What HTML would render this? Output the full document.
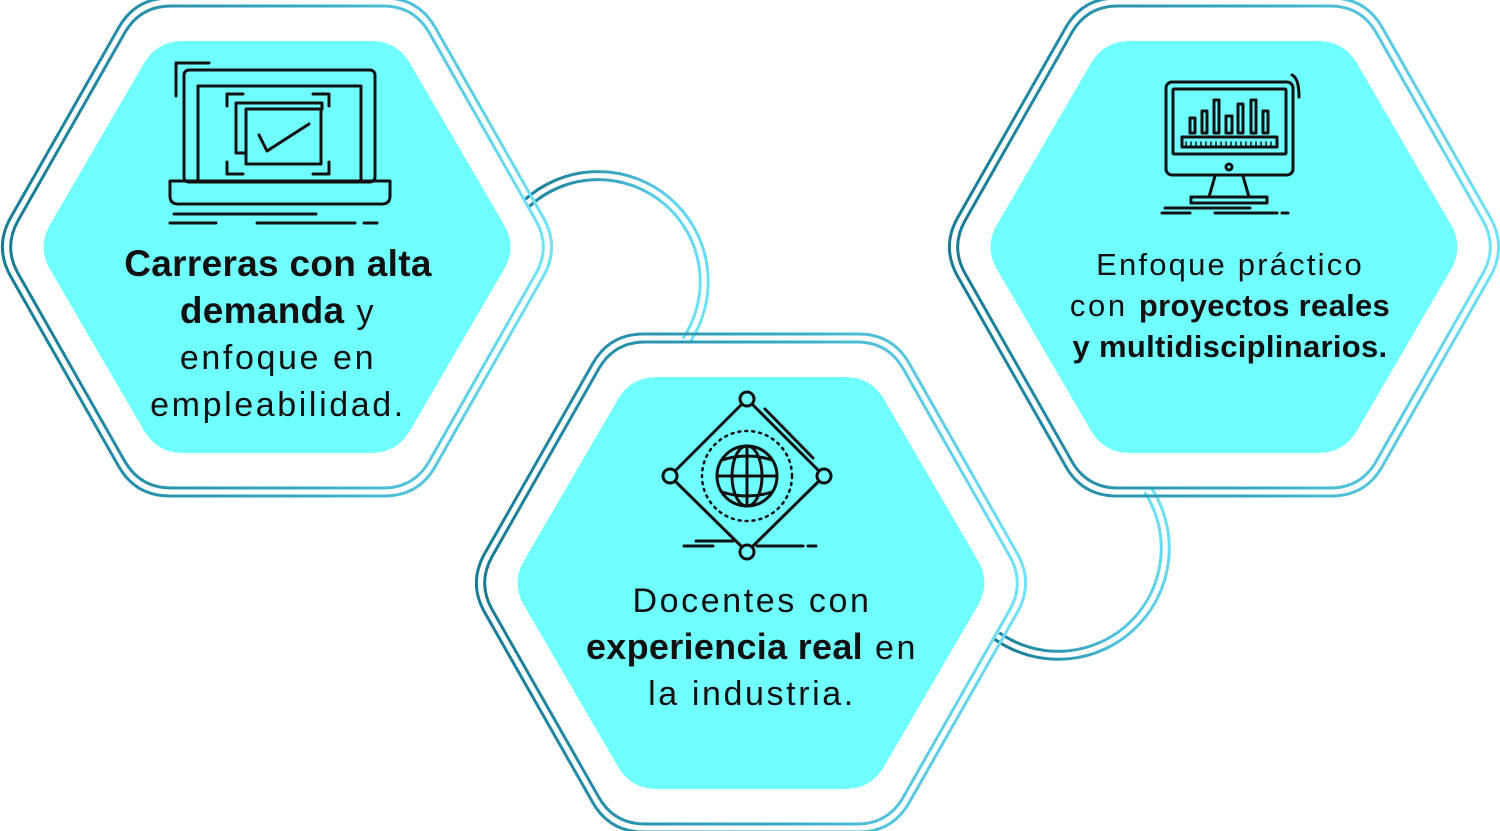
<!DOCTYPE html>
<html><head><meta charset="utf-8"><style>
html,body{margin:0;padding:0;background:#fff;width:1500px;height:831px;overflow:hidden}
svg{display:block}
text{font-family:"Liberation Sans",sans-serif;fill:#111;font-size:34px;letter-spacing:2.6px}
.b{font-weight:bold;letter-spacing:0.3px;font-size:35px}
.ic{fill:none;stroke:#111;stroke-width:3;stroke-linecap:round;stroke-linejoin:round}
</style></head><body>
<svg id="s" width="1500" height="831" viewBox="0 0 1500 831">
<defs>
<linearGradient id="g" x1="0" y1="0" x2="1" y2="0"><stop offset="0" stop-color="#177c96"/><stop offset="0.55" stop-color="#3aa9c4"/><stop offset="1" stop-color="#70e3f7"/></linearGradient>
<linearGradient id="c1" gradientUnits="userSpaceOnUse" x1="525" y1="190" x2="700" y2="340"><stop offset="0" stop-color="#177c96"/><stop offset="0.5" stop-color="#5fd4ee"/><stop offset="1" stop-color="#70e3f7"/></linearGradient>
<linearGradient id="c2" gradientUnits="userSpaceOnUse" x1="1160" y1="490" x2="995" y2="640"><stop offset="0" stop-color="#70e3f7"/><stop offset="0.6" stop-color="#4fc3df"/><stop offset="1" stop-color="#177c96"/></linearGradient>
</defs>
<path d="M526,204 A106,106 0 0 1 686,341" fill="none" stroke="url(#c1)" stroke-width="11"/>
<path d="M526,204 A106,106 0 0 1 686,341" fill="none" stroke="#fff" stroke-width="5"/>
<path d="M1148,490 A107,107 0 0 1 997,636" fill="none" stroke="url(#c2)" stroke-width="11"/>
<path d="M1148,490 A107,107 0 0 1 997,636" fill="none" stroke="#fff" stroke-width="5"/>
<g id="hexes"></g>
<g id="fills"></g>

<g class="ic">
<path d="M176,96 V63 H209"/>
<rect x="184" y="70" width="191" height="112" rx="5"/>
<path d="M198,181 V86 H361 V181"/>
<path d="M170,181 H390 V196 Q390,204 382,204 H178 Q170,204 170,196 Z"/>
<path d="M227,106 V94 H243 M313,94 H329 V106 M227,162 V174 H243 M313,174 H329 V162"/>
<path d="M246,153 H236 V103 H322 V109"/>
<rect x="246" y="109" width="75" height="55"/>
<path d="M259,135 L267,151 L309,124"/>
<path d="M174,214 H316 M170,223 H216 M257,223 H355 M364,223 H377"/>
</g>

<g class="ic">
<circle cx="747" cy="399" r="7"/><circle cx="670" cy="476" r="7"/><circle cx="824" cy="476" r="7"/><circle cx="747" cy="552" r="7"/>
<path d="M742,404 L675,471 M752,404 L819,471 M675,481 L742,547 M819,481 L752,547"/>
<path d="M765,409 L813,458"/>
<circle cx="747" cy="476" r="45" stroke-dasharray="2 5" stroke-width="2.5"/>
<circle cx="747" cy="476" r="30"/>
<ellipse cx="747" cy="476" rx="15" ry="30"/>
<path d="M747,446 V506 M717,476 H777 M722,460 Q747,452 772,460 M722,492 Q747,500 772,492"/>
<path d="M684,546 H713 M696,541 H733 M757,546 H803 M808,546 H816"/>
</g>

<g class="ic">
<rect x="1166" y="82" width="127" height="93" rx="6"/>
<rect x="1173" y="89" width="113" height="65" rx="1"/>
<rect x="1182" y="137" width="95" height="10"/>
<path d="M1186,142 V147 M1191,142 V147 M1196,142 V147 M1201,142 V147 M1206,142 V147 M1211,142 V147 M1216,142 V147 M1221,142 V147 M1226,142 V147 M1231,142 V147 M1236,142 V147 M1241,142 V147 M1246,142 V147 M1251,142 V147 M1256,142 V147 M1261,142 V147 M1266,142 V147 M1271,142 V147" stroke-width="1.5"/>
<rect x="1190" y="118" width="5" height="15"/><rect x="1202" y="111" width="5" height="22"/><rect x="1214" y="100" width="5" height="33"/><rect x="1226" y="116" width="6" height="17"/><rect x="1238" y="104" width="5" height="29"/><rect x="1251" y="100" width="5" height="33"/><rect x="1263" y="111" width="5" height="22"/>
<circle cx="1229" cy="167" r="3"/>
<path d="M1215,176 L1209,197 M1243,176 L1249,197"/>
<rect x="1191" y="197" width="76" height="6"/>
<path d="M1165,208 H1250 M1162,213 H1190 M1215,213 H1277 M1282,213 H1288"/>
<path d="M1292,75 Q1299,78 1299,97"/>
</g>

<text x="278" y="276" text-anchor="middle"><tspan class="b" style="font-size:37px">Carreras con alta</tspan></text>
<text x="278" y="323" text-anchor="middle"><tspan class="b" style="font-size:37px">demanda</tspan> y</text>
<text x="278" y="369" text-anchor="middle">enfoque en</text>
<text x="278" y="416" text-anchor="middle">empleabilidad.</text>

<text x="752" y="612" text-anchor="middle">Docentes con</text>
<text x="752" y="659" text-anchor="middle"><tspan class="b" style="font-size:36px">experiencia real</tspan> en</text>
<text x="752" y="705" text-anchor="middle">la industria.</text>

<text x="1230" y="275" text-anchor="middle" style="font-size:31px;letter-spacing:2.2px">Enfoque práctico</text>
<text x="1230" y="316" text-anchor="middle" style="font-size:31px">con <tspan class="b" style="font-size:31px">proyectos reales</tspan></text>
<text x="1230" y="357" text-anchor="middle"><tspan class="b" style="font-size:31px">y multidisciplinarios.</tspan></text>
</svg>
<script>
function hex(cx,cy,w,h,r){
 var v=[[cx-w,cy],[cx-w/2,cy-h],[cx+w/2,cy-h],[cx+w,cy],[cx+w/2,cy+h],[cx-w/2,cy+h]];
 var d="";
 for(var i=0;i<6;i++){
  var p=v[(i+5)%6],c=v[i],n=v[(i+1)%6];
  var l1=Math.hypot(c[0]-p[0],c[1]-p[1]),l2=Math.hypot(n[0]-c[0],n[1]-c[1]);
  var a=[c[0]+(p[0]-c[0])*r/l1,c[1]+(p[1]-c[1])*r/l1];
  var b=[c[0]+(n[0]-c[0])*r/l2,c[1]+(n[1]-c[1])*r/l2];
  d+=(i==0?"M":"L")+a[0].toFixed(1)+","+a[1].toFixed(1)+" Q"+c[0]+","+c[1]+" "+b[0].toFixed(1)+","+b[1].toFixed(1)+" ";
 }
 return d+"Z";
}
var NS="http://www.w3.org/2000/svg";
var H=document.getElementById("hexes"),F=document.getElementById("fills");
[[277,247],[751,583],[1224,247]].forEach(function(c){
 [[283,249,34],[274,241,31]].forEach(function(s){
  var p=document.createElementNS(NS,"path");
  p.setAttribute("d",hex(c[0],c[1],s[0],s[1],s[2]));
  p.setAttribute("fill","none");p.setAttribute("stroke","url(#g)");p.setAttribute("stroke-width","3");
  H.appendChild(p);
 });
 var f=document.createElementNS(NS,"path");
 f.setAttribute("d",hex(c[0],c[1],240,206,26));
 f.setAttribute("fill","#70ffff");
 F.appendChild(f);
});
</script>
</body></html>
